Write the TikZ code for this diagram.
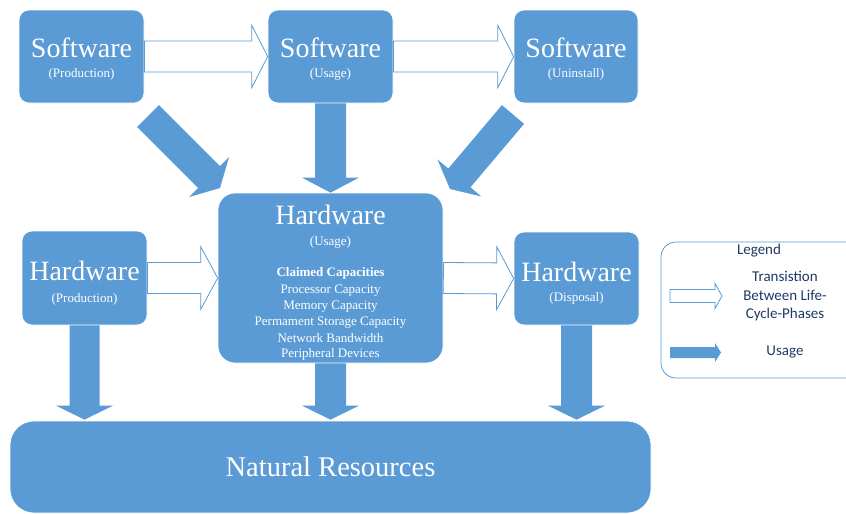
\documentclass[tikz,border=0pt]{standalone}
\usepackage{fontspec}
\setmainfont{Liberation Serif}
\newfontfamily\legendfont{Carlito}
\usetikzlibrary{calc}

\definecolor{boxblue}{HTML}{5B9BD5}
\definecolor{navy}{HTML}{1F3864}

% block arrow: #1 style, #2 start, #3 tip, #4 half shaft width, #5 half head width, #6 head length
\newcommand\blockarrow[6]{%
  \coordinate (ba-h) at ($(#3)!#6!(#2)$);
  \path[#1] ($(#2)!#4!90:(#3)$) -- ($(ba-h)!#4!90:(#3)$) -- ($(ba-h)!#5!90:(#3)$)
    -- (#3) -- ($(ba-h)!#5!-90:(#3)$) -- ($(ba-h)!#4!-90:(#3)$)
    -- ($(#2)!#4!-90:(#3)$) -- cycle;
}

\tikzset{
  phase/.style={rectangle, fill=boxblue, draw=white, line width=0.7pt,
    rounded corners=10pt, inner sep=0pt},
  title/.style={text=white, font=\fontsize{28}{30}\selectfont, inner sep=0pt},
  sub/.style={text=white, font=\fontsize{13}{15}\selectfont, inner sep=0pt},
  usagearrow/.style={fill=boxblue},
  transarrow/.style={fill=white, draw=boxblue, line width=0.8pt, line join=miter},
  legendtext/.style={text=navy, font=\legendfont\fontsize{15}{18.5}\selectfont,
    align=center, inner sep=0pt},
}

\begin{document}
\begin{tikzpicture}[x=1pt, y=-1pt]
\useasboundingbox (0,0) rectangle (846,514);

% life-cycle phase boxes
\node[phase, minimum width=125pt, minimum height=93pt] (sp) at (81.5,56.5) {};
\node[phase, minimum width=125pt, minimum height=93pt] (su) at (330.5,56.5) {};
\node[phase, minimum width=124pt, minimum height=93pt] (sx) at (576,56.5) {};
\node[phase, minimum width=125pt, minimum height=94pt] (hp) at (84.5,278) {};
\node[phase, minimum width=225pt, minimum height=170pt, rounded corners=17pt] (hu) at (330.5,278) {};
\node[phase, minimum width=125pt, minimum height=93pt] (hd) at (576.5,278.5) {};
\node[phase, minimum width=641pt, minimum height=92pt, rounded corners=24pt] (nr) at (330.5,467) {};

% box labels
\node[title] (sp-t) at (81.5,48) {Software};
\node[sub]   (sp-s) at (81.5,74) {(Production)};
\node[title] (su-t) at (330.5,48) {Software};
\node[sub]   (su-s) at (330.5,74) {(Usage)};
\node[title] (sx-t) at (576,48) {Software};
\node[sub]   (sx-s) at (576,74) {(Uninstall)};
\node[title] (hp-t) at (84.5,271) {Hardware};
\node[sub]   (hp-s) at (84.5,299) {(Production)};
\node[title] (hu-t) at (330.5,215) {Hardware};
\node[sub]   (hu-s) at (330.5,242) {(Usage)};
\node[sub, font=\fontsize{13}{15}\selectfont\bfseries] (hu-c0) at (330.5,273.3) {Claimed Capacities};
\node[sub] (hu-c1) at (330.5,290.7) {Processor Capacity};
\node[sub] (hu-c2) at (330.5,307) {Memory Capacity};
\node[sub] (hu-c3) at (330.5,322.7) {Permament Storage Capacity};
\node[sub] (hu-c4) at (330.5,338.5) {Network Bandwidth};
\node[sub] (hu-c5) at (330.5,354.3) {Peripheral Devices};
\node[title] (hd-t) at (576.5,272) {Hardware};
\node[sub]   (hd-s) at (576.5,298) {(Disposal)};
\node[title, font=\fontsize{28.5}{30}\selectfont] (nr-t) at (330.5,467) {Natural Resources};

% transitions between life-cycle phases
\blockarrow{transarrow}{sp.east}{su.west}{15.5pt}{31.5pt}{16pt}
\blockarrow{transarrow}{su.east}{sx.west}{15.5pt}{31.5pt}{16pt}
\blockarrow{transarrow}{hp.east}{hu.west}{15.5pt}{31.5pt}{17pt}
\blockarrow{transarrow}{hu.east}{hd.west}{15.5pt}{31.5pt}{17pt}

% usage relations
\coordinate (d1s) at (148,116);
\coordinate (d1e) at (220,188);
\coordinate (d2s) at (513,114.5);
\coordinate (d2e) at (450,189);
\blockarrow{usagearrow}{d1s}{d1e}{15.5pt}{28.3pt}{15.5pt}
\blockarrow{usagearrow}{d2s}{d2e}{14.5pt}{28.7pt}{14.5pt}
\blockarrow{usagearrow}{su.south}{hu.north}{15.5pt}{28.5pt}{15pt}

\coordinate (n1) at ($(hp.south |- nr.north)+(0,-1)$);
\coordinate (n2) at ($(hu.south |- nr.north)+(0,-1)$);
\coordinate (n3) at ($(hd.south |- nr.north)+(0,-1)$);
\blockarrow{usagearrow}{hp.south}{n1}{15pt}{28.5pt}{14pt}
\blockarrow{usagearrow}{hu.south}{n2}{15.5pt}{28.5pt}{14pt}
\blockarrow{usagearrow}{hd.south}{n3}{15.5pt}{28.5pt}{14pt}

% legend
\begin{scope}
  \clip (0,0) rectangle (846,514);
  \node[rectangle, draw=boxblue, line width=0.8pt, rounded corners=15pt,
    minimum width=230pt, minimum height=136pt, inner sep=0pt] (lg) at (776,310) {};
\end{scope}
\node[legendtext] (lg-t) at (759,251) {Legend};
\coordinate (la1s) at (670,296);
\coordinate (la1e) at (722,296);
\blockarrow{transarrow}{la1s}{la1e}{6.5pt}{12.5pt}{7pt}
\coordinate (la2s) at (670,352.5);
\coordinate (la2e) at (721,352.5);
\blockarrow{usagearrow}{la2s}{la2e}{5.5pt}{9.5pt}{6pt}
\node[legendtext] (lg-a) at (785,296.5) {Transistion\\Between Life-\\Cycle-Phases};
\node[legendtext] (lg-b) at (785,352) {Usage};
\end{tikzpicture}
\end{document}
